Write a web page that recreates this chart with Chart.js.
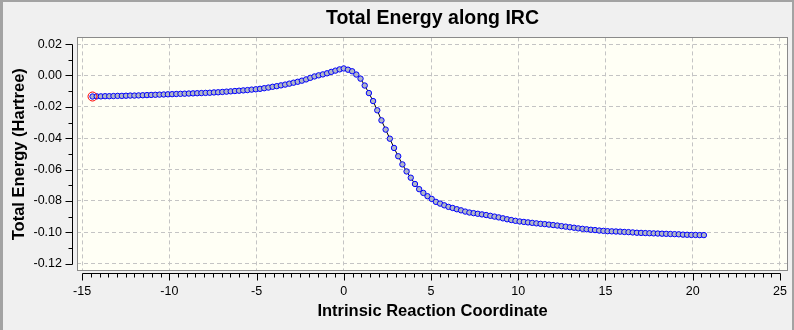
<!DOCTYPE html>
<html>
<head>
<meta charset="utf-8">
<script src="https://cdn.jsdelivr.net/npm/chart.js@4.4.1/dist/chart.umd.min.js"></script>
<style>
  html, body { margin: 0; padding: 0; background: #f0f0f0; }
  #wrap { position: relative; width: 794px; height: 330px; }
  canvas { display: block; }
  #frame { position: absolute; left: 0; top: 0; right: 0; bottom: 0; box-sizing: border-box;
           border-left: 3px solid #a3a3a3; border-top: 2px solid #a3a3a3; border-right: 2px solid #a3a3a3;
           pointer-events: none; }
</style>
</head>
<body>
<div id="wrap"><canvas id="c" width="794" height="330"></canvas><div id="frame"></div></div>
<script>
// ---- data ----
const irc = [
  -14.40, -14.16, -13.92, -13.68, -13.44, -13.20, -12.96, -12.72, -12.48, -12.24,
  -12.00, -11.76, -11.52, -11.28, -11.04, -10.80, -10.56, -10.32, -10.08, -9.84,
  -9.60, -9.36, -9.12, -8.88, -8.64, -8.40, -8.16, -7.92, -7.68, -7.44,
  -7.20, -6.96, -6.72, -6.48, -6.24, -6.00, -5.76, -5.52, -5.28, -5.04,
  -4.80, -4.56, -4.32, -4.08, -3.84, -3.60, -3.36, -3.12, -2.88, -2.64,
  -2.40, -2.16, -1.92, -1.68, -1.44, -1.20, -0.96, -0.72, -0.48, -0.24,
  0.00, 0.24, 0.48, 0.72, 0.96, 1.20, 1.44, 1.68, 1.92, 2.16,
  2.40, 2.64, 2.88, 3.12, 3.36, 3.60, 3.84, 4.08, 4.32, 4.56,
  4.80, 5.04, 5.28, 5.52, 5.76, 6.00, 6.24, 6.48, 6.72, 6.96,
  7.20, 7.44, 7.68, 7.92, 8.16, 8.40, 8.64, 8.88, 9.12, 9.36,
  9.60, 9.84, 10.08, 10.32, 10.56, 10.80, 11.04, 11.28, 11.52, 11.76,
  12.00, 12.24, 12.48, 12.72, 12.96, 13.20, 13.44, 13.68, 13.92, 14.16,
  14.40, 14.64, 14.88, 15.12, 15.36, 15.60, 15.84, 16.08, 16.32, 16.56,
  16.80, 17.04, 17.28, 17.52, 17.76, 18.00, 18.24, 18.48, 18.72, 18.96,
  19.20, 19.44, 19.68, 19.92, 20.16, 20.40, 20.64
];
const energy = [
  -0.0134, -0.0133, -0.0133, -0.0132, -0.0132, -0.0131, -0.0130, -0.0130, -0.0129, -0.0128,
  -0.0128, -0.0127, -0.0126, -0.0125, -0.0124, -0.0123, -0.0122, -0.0121, -0.0120, -0.0119,
  -0.0118, -0.0117, -0.0116, -0.0115, -0.0114, -0.0113, -0.0112, -0.0111, -0.0110, -0.0108,
  -0.0107, -0.0105, -0.0103, -0.0101, -0.0099, -0.0097, -0.0095, -0.0093, -0.0090, -0.0088,
  -0.0085, -0.0081, -0.0077, -0.0072, -0.0068, -0.0063, -0.0058, -0.0052, -0.0046, -0.0040,
  -0.0033, -0.0025, -0.0015, -0.0006, 0.0001, 0.0007, 0.0014, 0.0023, 0.0031, 0.0039,
  0.0045, 0.0037, 0.0027, 0.0006, -0.0020, -0.0064, -0.0112, -0.0163, -0.0222, -0.0286,
  -0.0345, -0.0403, -0.0462, -0.0515, -0.0567, -0.0612, -0.0652, -0.0692, -0.0725, -0.0749,
  -0.0770, -0.0787, -0.0806, -0.0817, -0.0828, -0.0838, -0.0845, -0.0853, -0.0860, -0.0868,
  -0.0874, -0.0878, -0.0882, -0.0886, -0.0890, -0.0895, -0.0900, -0.0905, -0.0911, -0.0917,
  -0.0922, -0.0927, -0.0931, -0.0934, -0.0937, -0.0940, -0.0943, -0.0946, -0.0948, -0.0951,
  -0.0954, -0.0957, -0.0961, -0.0964, -0.0968, -0.0971, -0.0975, -0.0978, -0.0981, -0.0984,
  -0.0986, -0.0989, -0.0991, -0.0993, -0.0994, -0.0995, -0.0996, -0.0998, -0.0999, -0.1001,
  -0.1003, -0.1004, -0.1005, -0.1006, -0.1007, -0.1008, -0.1009, -0.1010, -0.1011, -0.1012,
  -0.1013, -0.1015, -0.1016, -0.1017, -0.1017, -0.1018, -0.1018
];
const xTickValues = [-15, -10, -5, 0, 5, 10, 15, 20, 25];
const yTickValues = [-0.12, -0.10, -0.08, -0.06, -0.04, -0.02, 0.00, 0.02];
const xMinorStep = 0.5;
const yMinorStep = 0.01;

const titleText = 'Total Energy along IRC';
const xTitleText = 'Intrinsic Reaction Coordinate';
const yTitleText = 'Total Energy (Hartree)';

const FONT = "'Liberation Sans', Arial, sans-serif";

const points = irc.map((x, i) => ({ x: x, y: energy[i] }));

const gaussAxes = {
  id: 'gaussAxes',
  beforeDraw(chart) {
    const { ctx, chartArea: a } = chart;
    ctx.save();
    ctx.fillStyle = '#fffff5';
    ctx.fillRect(a.left, a.top, a.right - a.left, a.bottom - a.top);
    ctx.restore();
  },
  afterDraw(chart) {
    const { ctx, chartArea: a, scales } = chart;
    const xs = scales.x, ys = scales.y;
    ctx.save();
    // plot border
    ctx.strokeStyle = '#8a8a8a';
    ctx.lineWidth = 1;
    ctx.strokeRect(Math.round(a.left) + 0.5, Math.round(a.top) + 0.5,
                   Math.round(a.right - a.left) - 1, Math.round(a.bottom - a.top) - 1);
    ctx.strokeStyle = '#000';
    // x axis (offset below the plot)
    const ay = Math.round(a.bottom) + 2.5;
    const x0 = xs.getPixelForValue(xTickValues[0]);
    const x1 = xs.getPixelForValue(xTickValues[xTickValues.length - 1]);
    ctx.beginPath();
    ctx.moveTo(Math.round(x0) + 0.5, ay);
    ctx.lineTo(Math.round(x1) + 0.5, ay);
    const xFirst = xTickValues[0], xLast = xTickValues[xTickValues.length - 1];
    const nx = Math.round((xLast - xFirst) / xMinorStep);
    for (let i = 0; i <= nx; i++) {
      const v = xFirst + i * xMinorStep;
      const px = Math.round(xs.getPixelForValue(v)) + 0.5;
      const major = xTickValues.some(t => Math.abs(t - v) < 1e-9);
      ctx.moveTo(px, ay);
      ctx.lineTo(px, ay + (major ? 7 : 4));
    }
    // y axis (offset left of the plot)
    const ax = Math.round(a.left) - 4.5;
    const y0 = ys.getPixelForValue(yTickValues[0]);
    const y1 = ys.getPixelForValue(yTickValues[yTickValues.length - 1]);
    ctx.moveTo(ax, Math.round(y0) + 0.5);
    ctx.lineTo(ax, Math.round(y1) + 0.5);
    const yFirst = yTickValues[0], yLast = yTickValues[yTickValues.length - 1];
    const ny = Math.round((yLast - yFirst) / yMinorStep);
    for (let i = 0; i <= ny; i++) {
      const v = yFirst + i * yMinorStep;
      const py = Math.round(ys.getPixelForValue(v)) + 0.5;
      const major = yTickValues.some(t => Math.abs(t - v) < 1e-9);
      ctx.moveTo(ax, py);
      ctx.lineTo(ax - (major ? 7 : 4), py);
    }
    ctx.stroke();
    ctx.restore();
  }
};

new Chart(document.getElementById('c'), {
  type: 'scatter',
  data: {
    datasets: [
      {
        label: 'first point',
        data: [points[0]],
        showLine: false,
        pointRadius: 4.5,
        pointHoverRadius: 4.5,
        pointBorderWidth: 1,
        pointBorderColor: '#ff0000',
        pointBackgroundColor: 'rgba(0,0,0,0)',
        order: 0
      },
      {
        label: 'IRC',
        data: points,
        showLine: true,
        borderColor: '#000000',
        borderWidth: 1,
        pointRadius: 2.7,
        pointHoverRadius: 2.7,
        pointBorderWidth: 1,
        pointBorderColor: '#0000ff',
        pointBackgroundColor: '#b0b6c6',
        tension: 0,
        order: 1
      }
    ]
  },
  options: {
    responsive: false,
    animation: false,
    events: [],
    layout: { padding: { left: 0, right: 6, top: 3, bottom: 0 } },
    plugins: {
      legend: { display: false },
      tooltip: { enabled: false },
      title: {
        display: true,
        text: titleText,
        fullSize: false,
        color: '#000',
        font: { family: FONT, size: 19.5, weight: 'bold' },
        padding: { top: 4, bottom: 7 }
      }
    },
    scales: {
      x: {
        type: 'linear',
        min: -15.29,
        max: 25.46,
        afterBuildTicks: s => { s.ticks = xTickValues.map(v => ({ value: v })); },
        afterFit: s => { s.height = 59; s.paddingLeft = 0; s.paddingRight = 0; },
        ticks: {
          color: '#000',
          font: { family: FONT, size: 12.5 },
          padding: 13,
          maxRotation: 0,
          autoSkip: false,
          callback: v => String(v)
        },
        grid: { color: '#c4c4c4', lineWidth: 1, drawTicks: false },
        border: { display: false, dash: [4, 3] },
        title: {
          display: true,
          text: xTitleText,
          color: '#000',
          font: { family: FONT, size: 16.5, weight: 'bold' },
          padding: { top: 0, bottom: 9 }
        }
      },
      y: {
        type: 'linear',
        min: -0.1247,
        max: 0.0243,
        afterBuildTicks: s => { s.ticks = yTickValues.map(v => ({ value: v })); },
        afterFit: s => { s.width = 77; s.paddingTop = 0; s.paddingBottom = 0; },
        ticks: {
          color: '#000',
          font: { family: FONT, size: 12.5 },
          padding: 15,
          autoSkip: false,
          callback: v => v.toFixed(2)
        },
        grid: { color: '#c4c4c4', lineWidth: 1, drawTicks: false },
        border: { display: false, dash: [4, 3] },
        title: {
          display: true,
          text: yTitleText,
          color: '#000',
          font: { family: FONT, size: 16.5, weight: 'bold' },
          padding: { top: 10, bottom: 0 }
        }
      }
    }
  },
  plugins: [gaussAxes]
});
</script>
</body>
</html>
